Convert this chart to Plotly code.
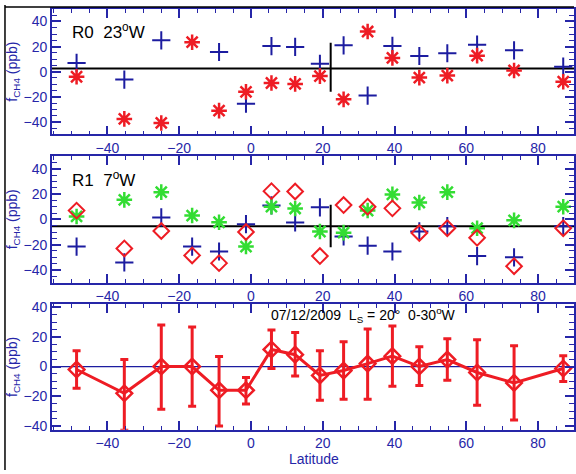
import plotly.graph_objects as go

# ---------------- data ----------------
lat = [-48.6, -35.3, -25.0, -16.4, -8.9, -1.4, 5.7, 12.3, 19.2, 25.8, 32.5, 39.4, 46.9, 54.7, 63.0, 73.3, 87.0]

# Panel R0 (23 W)
r0_blue = [7, -6.3, 25, None, 15.7, -25.5, 20.4, 19.7, 6.3, 21, -19, 20.5, 12.5, 14.7, 21.5, 17, 4]
r0_red = [-4, -37.6, -40.8, 23.5, -31, -16, -9, -9.7, -3.5, -22, 32, 11, -4.7, -3.1, 12.8, 1, -8]
r0_mean = 2.5
r0_mark_lat = 22.2
r0_mark_y = [23, -16]

# Panel R1 (7 W)
r1_blue = [-21.5, -34, 1.5, -21.5, -25.4, -3.8, 11, -2.5, 9.5, -13.5, -20.8, -25.4, -9.5, -5.4, -29, -30, -5.4]
r1_red = [6.9, -23, -9.2, -28.5, -34.6, -10, 22.3, 22, -29, 11.3, 10, 8.7, -10.8, -7, -14.6, -37, -7]
r1_green = [2.3, 15.4, 21.5, 3, -2.3, -21.5, 10, 8.6, -9.6, -10.5, 7, 19.7, 13.3, 21.5, -7, -0.8, 10]
r1_mean = -5.4
r1_mark_lat = 22.2
r1_mark_y = [11.5, -22]

# Panel average with error bars
avg = [-2, -18, 0, 0, -16, -16, 11.5, 8, -6, -2.7, 2, 7, 0, 4.7, -4, -11, -1.3]
avg_hi = [10.7, 4.7, 28, 26.7, 6.7, -7.3, 24.7, 23, 10.7, 16.7, 25.3, 27.3, 13.3, 18.7, 18, 14, 7.3]
avg_lo = [-14.7, -43, -28.7, -26.7, -40, -25.3, -1.3, -6.3, -22.7, -22, -22, -13.3, -12.7, -9.3, -26, -36, -10]

xticks = [-40, -20, 0, 20, 40, 60, 80]
yticks = [-40, -20, 0, 20, 40]

# ---------------- style ----------------
W, H = 576, 474
BLUE = "#1c1ca0"
AX = "#2626a8"
RED = "#ee1c24"
GREEN = "#33dd33"
FONT = "Liberation Sans, Arial, sans-serif"

def px_y(y0, y1):
    return [1 - y1 / H, 1 - y0 / H]

xdom = [52 / W, 1.0]
ydoms = [px_y(4, 132), px_y(154, 283), px_y(305, 433)]
xr = [-55.5, 90]
yranges = [[-50, 50], [-50, 50], [-42.6, 42]]

fig = go.Figure()

def add_pts(xa, ya, y, sym, color, size, lw):
    fig.add_trace(go.Scatter(x=lat, y=y, mode="markers", xaxis=xa, yaxis=ya,
                             marker=dict(symbol=sym, size=size, color=color,
                                         line=dict(color=color, width=lw)),
                             showlegend=False, cliponaxis=False))

def add_line(xa, ya, xs, ys, color, w):
    fig.add_trace(go.Scatter(x=xs, y=ys, mode="lines", xaxis=xa, yaxis=ya,
                             line=dict(color=color, width=w), showlegend=False,
                             hoverinfo="skip"))

# Panel 1
add_line("x", "y", xr, [r0_mean, r0_mean], "black", 2)
add_line("x", "y", [r0_mark_lat, r0_mark_lat], r0_mark_y, "black", 2)
add_pts("x", "y", r0_blue, "cross-thin", BLUE, 13, 2)
add_pts("x", "y", r0_red, "asterisk", RED, 13, 2.5)

# Panel 2
add_line("x2", "y2", xr, [r1_mean, r1_mean], "black", 2)
add_line("x2", "y2", [r1_mark_lat, r1_mark_lat], r1_mark_y, "black", 2)
add_pts("x2", "y2", r1_blue, "cross-thin", BLUE, 13, 2)
add_pts("x2", "y2", r1_green, "asterisk", GREEN, 13, 2.5)
add_pts("x2", "y2", r1_red, "diamond-open", RED, 12, 2)

# Panel 3
add_line("x3", "y3", xr, [0, 0], BLUE, 1.2)
fig.add_trace(go.Scatter(
    x=lat, y=avg, mode="lines+markers", xaxis="x3", yaxis="y3",
    line=dict(color=RED, width=3),
    marker=dict(symbol="diamond-open", size=12, color=RED, line=dict(color=RED, width=2.5)),
    error_y=dict(type="data", symmetric=False,
                 array=[h - v for h, v in zip(avg_hi, avg)],
                 arrayminus=[v - l for l, v in zip(avg_lo, avg)],
                 color=RED, thickness=3, width=4),
    showlegend=False))

axis_common = dict(showline=True, linecolor=AX, linewidth=1.5, mirror="ticks",
                   ticks="inside", tickcolor=AX, tickwidth=1.5, ticklen=9,
                   showgrid=False, zeroline=False,
                   tickfont=dict(family=FONT, size=14, color=AX))

layout = dict(width=W, height=H, margin=dict(l=0, r=0, t=0, b=0),
              paper_bgcolor="white", plot_bgcolor="white", showlegend=False)
for i in range(3):
    sfx = "" if i == 0 else str(i + 1)
    layout["xaxis" + sfx] = dict(axis_common, domain=xdom, range=xr, tickvals=xticks,
                                 anchor="y" + sfx,
                                 minor=dict(ticks="inside", dtick=5, ticklen=4,
                                            tickcolor=AX, tickwidth=1.2))
    layout["yaxis" + sfx] = dict(axis_common, domain=ydoms[i], range=yranges[i],
                                 tickvals=yticks, anchor="x" + sfx,
                                 minor=dict(ticks="inside", dtick=5, ticklen=5,
                                            tickcolor=AX, tickwidth=1.2))
fig.update_layout(**layout)

ann = []
for i in range(3):
    yc = (ydoms[i][0] + ydoms[i][1]) / 2
    ann.append(dict(x=13 / W, y=yc, xref="paper", yref="paper", textangle=-90,
                    xanchor="center", yanchor="middle",
                    text="f<sub>CH4</sub> (ppb)", showarrow=False,
                    font=dict(family=FONT, size=14, color=AX)))
ann.append(dict(x=70 / W, y=1 - 26 / H, xref="paper", yref="paper", xanchor="left",
                yanchor="middle", text="R0  23<sup>o</sup>W", showarrow=False,
                font=dict(family=FONT, size=17, color="black")))
ann.append(dict(x=70 / W, y=1 - 177 / H, xref="paper", yref="paper", xanchor="left",
                yanchor="middle", text="R1  7<sup>o</sup>W", showarrow=False,
                font=dict(family=FONT, size=17, color="black")))
ann.append(dict(x=270 / W, y=1 - 316 / H, xref="paper", yref="paper", xanchor="left",
                yanchor="middle",
                text="07/12/2009  L<sub>S</sub> = 20°  0-30<sup>o</sup>W", showarrow=False,
                font=dict(family=FONT, size=14, color="black")))
ann.append(dict(x=315 / W, y=1 - 463 / H, xref="paper", yref="paper",
                xanchor="center", yanchor="middle",
                text="Latitude", showarrow=False,
                font=dict(family=FONT, size=14, color=AX)))
fig.update_layout(annotations=ann)

# figure frame (left and top)
fig.add_shape(type="line", xref="paper", yref="paper", x0=5 / W, x1=5 / W, y0=0, y1=1,
              line=dict(color="black", width=1.5))
fig.add_shape(type="line", xref="paper", yref="paper", x0=5 / W, x1=1, y0=1 - 2 / H, y1=1 - 2 / H,
              line=dict(color="black", width=1.5))

fig.write_html("out.html", config={"displayModeBar": False},
               post_script="document.body.style.margin='0';")
